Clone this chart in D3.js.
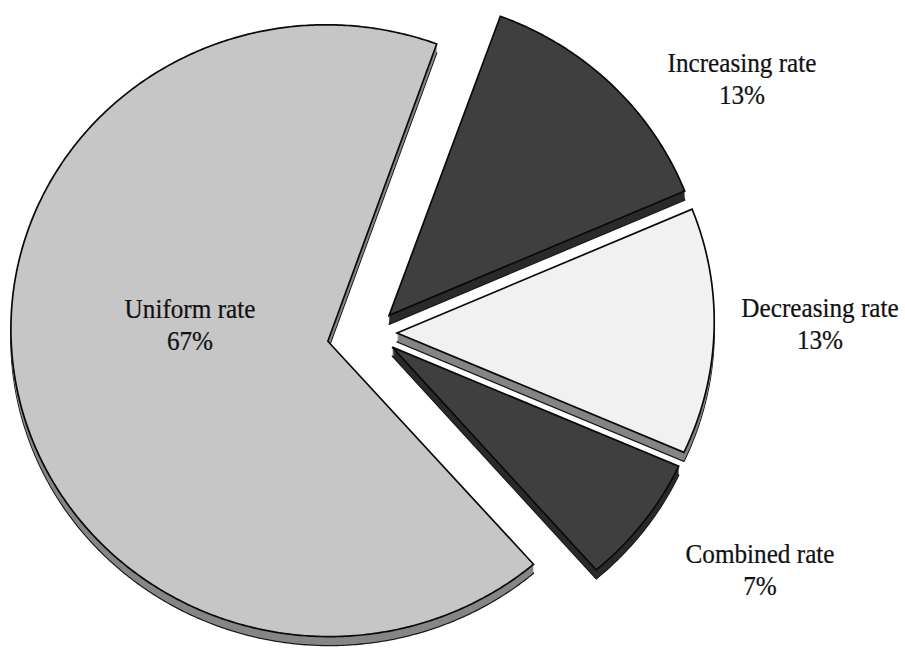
<!DOCTYPE html>
<html>
<head>
<meta charset="utf-8">
<script src="https://cdn.jsdelivr.net/npm/d3@7"></script>
<style>
  html, body { margin: 0; padding: 0; background: #ffffff; }
  svg { display: block; }
  text { font-family: "Liberation Serif", "Times New Roman", serif; fill: #111111; }
</style>
</head>
<body>
<svg id="chart" width="905" height="665"></svg>
<script>
// ---- data ----
const categories = ["Uniform rate", "Increasing rate", "Decreasing rate", "Combined rate"];
const shares = [67, 13, 13, 7];               // percent
const valueLabels = ["67%", "13%", "13%", "7%"];

// ---- styling / layout ----
const topColors  = ["#c6c6c6", "#3f3f3f", "#f1f1f1", "#3f3f3f"];
const sideColors = ["#868686", "#2b2b2b", "#858585", "#2b2b2b"];
const explode    = [45, 25, 25, 25];           // offset of each slice from the centre
const labelAnchor = [[-182, -15], [370, -261], [448, -16], [388, 230]]; // first text line, relative to centre

const W = 905, H = 665;
const cx = 372, cy = 333;       // pie centre on screen
const R = 317;                  // radius in the pie plane
const tilt = 0.9656;            // vertical squash of the plane
const persp = 0.0344 / R;       // mild perspective
const depth = 9;                // slice thickness in px
const startDeg = 138.5;         // where the first slice begins (clockwise from 12 o'clock)

const svg = d3.select("#chart");

// plane -> screen projection
function project(x, y) {
  const f = 1 / (1 + persp * y);
  return [cx + x * f, cy + y * tilt * f];
}

const pie = d3.pie().sort(null).value(d => d)
  .startAngle(startDeg * Math.PI / 180)
  .endAngle(startDeg * Math.PI / 180 + 2 * Math.PI);
const arcs = pie(shares);

// polygon outline of each slice in screen space
const slices = arcs.map((a, i) => {
  const mid = (a.startAngle + a.endAngle) / 2;
  const ox = explode[i] * Math.sin(mid), oy = -explode[i] * Math.cos(mid);
  const pts = [project(ox, oy)];
  const steps = Math.max(8, Math.ceil((a.endAngle - a.startAngle) / (Math.PI / 360)));
  for (let k = 0; k <= steps; k++) {
    const t = a.startAngle + (a.endAngle - a.startAngle) * k / steps;
    pts.push(project(ox + R * Math.sin(t), oy - R * Math.cos(t)));
  }
  return { i, pts };
});

const line = d3.line().curve(d3.curveLinearClosed);

// side walls: stacked copies of each slice pushed downward
const sides = svg.append("g");
slices.forEach(s => {
  for (let d = depth; d >= 1; d--) {
    sides.append("path")
      .attr("d", line(s.pts.map(p => [p[0], p[1] + d])))
      .attr("fill", sideColors[s.i])
      .attr("stroke", d === depth ? "#1a1a1a" : "none")
      .attr("stroke-width", 1.3)
      .attr("stroke-linejoin", "round");
  }
});

// top faces
svg.append("g").selectAll("path")
  .data(slices)
  .join("path")
  .attr("d", s => line(s.pts))
  .attr("fill", s => topColors[s.i])
  .attr("stroke", "#0a0a0a")
  .attr("stroke-width", 1.7)
  .attr("stroke-linejoin", "miter");

// labels (slightly condensed serif)
const lab = svg.append("g");
function addText(x, y, str) {
  lab.append("text")
    .attr("transform", `translate(${x},${y}) scale(0.9,1)`)
    .attr("text-anchor", "middle")
    .attr("font-size", 28)
    .attr("stroke", "#111")
    .attr("stroke-width", 0.25)
    .text(str);
}
categories.forEach((c, i) => {
  const x = cx + labelAnchor[i][0], y = cy + labelAnchor[i][1];
  addText(x, y, c);
  addText(x, y + 32, valueLabels[i]);
});
</script>
</body>
</html>
